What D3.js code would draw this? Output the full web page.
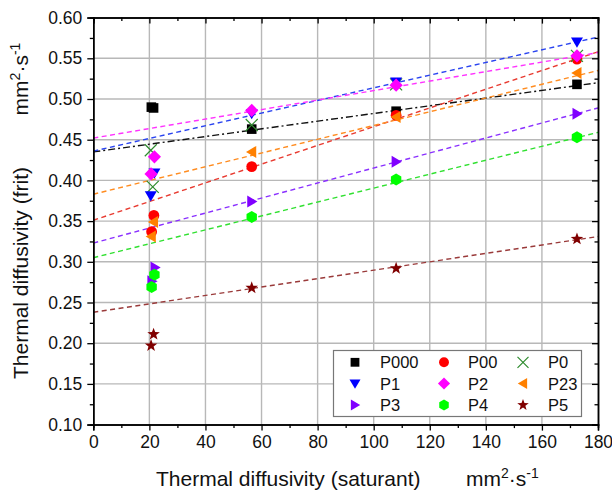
<!DOCTYPE html>
<html>
<head>
<meta charset="utf-8">
<script src="https://cdn.jsdelivr.net/npm/d3@7"></script>
<style>
  body { margin: 0; background: #fff; }
  svg { display: block; }
  text { font-family: "Liberation Sans", Arial, sans-serif; fill: #111; }
</style>
</head>
<body>
<div id="chart"></div>
<script>
// Thermal diffusivity of frit vs saturant, one series per sample

//////////////////////////////////////////////////////////////////////////
// data

var seriesNames  = ["P000", "P00", "P0", "P1", "P2", "P23", "P3", "P4", "P5"];
var seriesColors = ["#000000", "#ff0000", "#2e8b2e", "#0000ff", "#ff00ff", "#ff8000", "#8000ff", "#00ff00", "#800000"];
var lineColors   = ["#111111", "#e83a30", null, "#2a44f0", "#ff33ff", "#ff8c20", "#8a30ff", "#30e030", "#9a3a3a"];
var seriesShapes = ["square", "circle", "x", "triDown", "diamond", "triLeft", "triRight", "hexagon", "star"];

var xP000 = [20.7, 21.5, 56.5, 108, 172.5];
var yP000 = [0.490, 0.489, 0.463, 0.485, 0.518];
var xP00  = [21.6, 20.8, 56.5, 108, 172.5];
var yP00  = [0.357, 0.337, 0.417, 0.480, 0.549];
var xP0   = [20.5, 21.2, 56.5, 108, 172.5];
var yP0   = [0.437, 0.392, 0.468, 0.518, 0.553];
var xP1   = [21.8, 20.5, 56.5, 108, 172.5];
var yP1   = [0.409, 0.381, 0.482, 0.521, 0.570];
var xP2   = [21.8, 20.6, 56.5, 108, 172.5];
var yP2   = [0.429, 0.408, 0.486, 0.517, 0.553];
var xP23  = [21.5, 20.7, 56.5, 108, 172.5];
var yP23  = [0.349, 0.331, 0.435, 0.478, 0.532];
var xP3   = [22.0, 20.9, 56.5, 108, 172.5];
var yP3   = [0.293, 0.276, 0.374, 0.423, 0.482];
var xP4   = [21.8, 20.8, 56.5, 108, 172.5];
var yP4   = [0.284, 0.269, 0.355, 0.401, 0.453];
var xP5   = [21.5, 20.6, 56.5, 108, 172.5];
var yP5   = [0.211, 0.197, 0.268, 0.292, 0.328];

var seriesX = [xP000, xP00, xP0, xP1, xP2, xP23, xP3, xP4, xP5];
var seriesY = [yP000, yP00, yP0, yP1, yP2, yP23, yP3, yP4, yP5];

// fitted lines: value at x = 0 and at x = 180 (P0 has no line)
var fitStart = [0.435, 0.351, null, 0.436, 0.452, 0.383, 0.323, 0.305, 0.238];
var fitEnd   = [0.520, 0.558, null, 0.576, 0.557, 0.535, 0.489, 0.459, 0.331];

var xTicks = [0, 20, 40, 60, 80, 100, 120, 140, 160, 180];
var yTicks = [0.10, 0.15, 0.20, 0.25, 0.30, 0.35, 0.40, 0.45, 0.50, 0.55, 0.60];

//////////////////////////////////////////////////////////////////////////
// layout

var Width = 612;
var Height = 494;
var plotLeft = 93.3, plotRight = 598, plotTop = 17.6, plotBottom = 424.6;

var svg = d3.select("#chart")
    .append("svg")
    .attr("width", Width)
    .attr("height", Height);

var xScale = d3.scaleLinear().domain([0, 180]).range([plotLeft, plotRight]);
var yScale = d3.scaleLinear().domain([0.10, 0.60]).range([plotBottom, plotTop]);

var xMinor = d3.range(10, 180, 20);
var yMinor = d3.range(0.125, 0.6, 0.05);

// gridlines
svg.append("g").selectAll("line")
    .data(xTicks.slice(1, -1))
    .enter().append("line")
    .attr("x1", function(d) { return xScale(d); })
    .attr("x2", function(d) { return xScale(d); })
    .attr("y1", plotTop).attr("y2", plotBottom)
    .attr("stroke", "#b8b8b8").attr("stroke-width", 1.4);

svg.append("g").selectAll("line")
    .data(yTicks.slice(1, -1))
    .enter().append("line")
    .attr("y1", function(d) { return yScale(d); })
    .attr("y2", function(d) { return yScale(d); })
    .attr("x1", plotLeft).attr("x2", plotRight)
    .attr("stroke", "#b8b8b8").attr("stroke-width", 1.4);

// fit lines, clipped to the plot
svg.append("clipPath").attr("id", "plotClip")
    .append("rect")
    .attr("x", plotLeft).attr("y", plotTop)
    .attr("width", plotRight - plotLeft).attr("height", plotBottom - plotTop);

var fitGroup = svg.append("g").attr("clip-path", "url(#plotClip)");
seriesNames.forEach(function(name, i) {
    if (fitStart[i] === null) return;
    fitGroup.append("line")
        .attr("x1", xScale(0)).attr("y1", yScale(fitStart[i]))
        .attr("x2", xScale(180)).attr("y2", yScale(fitEnd[i]))
        .attr("stroke", lineColors[i])
        .attr("stroke-width", 1.4)
        .attr("stroke-dasharray", i === 0 ? "7,3,2,3" : "5,3.5");
});

//////////////////////////////////////////////////////////////////////////
// marker shapes, drawn round 0,0

function markerPath(shape, s) {
    var p = d3.path();
    var h = s / 2;
    if (shape === "square") {
        h = s * 0.4;
        p.rect(-h, -h, 2 * h, 2 * h);
    } else if (shape === "circle") {
        p.arc(0, 0, s * 0.45, 0, 2 * Math.PI);
    } else if (shape === "diamond") {
        p.moveTo(0, -h * 1.1); p.lineTo(h * 1.1, 0); p.lineTo(0, h * 1.1); p.lineTo(-h * 1.1, 0); p.closePath();
    } else if (shape === "triDown") {
        p.moveTo(-h, -h * 0.75); p.lineTo(h, -h * 0.75); p.lineTo(0, h * 0.95); p.closePath();
    } else if (shape === "triLeft") {
        p.moveTo(h * 0.75, -h); p.lineTo(h * 0.75, h); p.lineTo(-h * 0.95, 0); p.closePath();
    } else if (shape === "triRight") {
        p.moveTo(-h * 0.75, -h); p.lineTo(-h * 0.75, h); p.lineTo(h * 0.95, 0); p.closePath();
    } else if (shape === "hexagon") {
        for (var k = 0; k < 6; k++) {
            var a = Math.PI / 6 + k * Math.PI / 3;
            var px = Math.cos(a) * h, py = Math.sin(a) * h;
            if (k === 0) p.moveTo(px, py); else p.lineTo(px, py);
        }
        p.closePath();
    } else if (shape === "star") {
        for (var j = 0; j < 10; j++) {
            var r = (j % 2 === 0) ? h * 1.1 : h * 0.45;
            var b = -Math.PI / 2 + j * Math.PI / 5;
            if (j === 0) p.moveTo(Math.cos(b) * r, Math.sin(b) * r);
            else p.lineTo(Math.cos(b) * r, Math.sin(b) * r);
        }
        p.closePath();
    } else if (shape === "x") {
        p.moveTo(-h, -h); p.lineTo(h, h);
        p.moveTo(-h, h); p.lineTo(h, -h);
    }
    return p.toString();
}

function drawMarker(g, shape, color, cx, cy, s) {
    var m = g.append("path")
        .attr("d", markerPath(shape, s))
        .attr("transform", "translate(" + cx + "," + cy + ")");
    if (shape === "x") {
        m.attr("fill", "none").attr("stroke", color).attr("stroke-width", 1.2);
    } else {
        m.attr("fill", color);
    }
}

// data points
var pointGroup = svg.append("g");
seriesNames.forEach(function(name, i) {
    seriesX[i].forEach(function(xv, k) {
        drawMarker(pointGroup, seriesShapes[i], seriesColors[i], xScale(xv), yScale(seriesY[i][k]), 12);
    });
});

//////////////////////////////////////////////////////////////////////////
// axes

var tickFont = "17.5px";

var bottomAxis = svg.append("g")
    .attr("transform", "translate(0," + plotBottom + ")")
    .call(d3.axisBottom(xScale).tickValues(xTicks).tickSize(6).tickPadding(5).tickFormat(d3.format("d")));
var leftAxis = svg.append("g")
    .attr("transform", "translate(" + plotLeft + ",0)")
    .call(d3.axisLeft(yScale).tickValues(yTicks).tickSize(6).tickPadding(5).tickFormat(d3.format(".2f")));
var topAxis = svg.append("g")
    .attr("transform", "translate(0," + plotTop + ")")
    .call(d3.axisBottom(xScale).tickValues(xTicks).tickSize(6).tickFormat(""));
var rightAxis = svg.append("g")
    .attr("transform", "translate(" + plotRight + ",0)")
    .call(d3.axisLeft(yScale).tickValues(yTicks).tickSize(6).tickFormat(""));

// minor ticks
svg.append("g").attr("transform", "translate(0," + plotBottom + ")")
    .call(d3.axisBottom(xScale).tickValues(xMinor).tickSize(3.5).tickFormat(""));
svg.append("g").attr("transform", "translate(" + plotLeft + ",0)")
    .call(d3.axisLeft(yScale).tickValues(yMinor).tickSize(3.5).tickFormat(""));
svg.append("g").attr("transform", "translate(0," + plotTop + ")")
    .call(d3.axisBottom(xScale).tickValues(xMinor).tickSize(3.5).tickFormat(""));
svg.append("g").attr("transform", "translate(" + plotRight + ",0)")
    .call(d3.axisLeft(yScale).tickValues(yMinor).tickSize(3.5).tickFormat(""));

svg.selectAll(".domain").attr("stroke", "#000").attr("stroke-width", 1.5);
svg.selectAll(".tick line").attr("stroke", "#000").attr("stroke-width", 1.3);
svg.selectAll(".tick text")
    .attr("font-family", "Liberation Sans, Arial, sans-serif")
    .attr("font-size", tickFont)
    .attr("fill", "#222");

//////////////////////////////////////////////////////////////////////////
// axis titles

var titleFont = "21px";
var supFont = "14px";

svg.append("text")
    .attr("x", 156).attr("y", 486)
    .attr("font-size", titleFont)
    .text("Thermal diffusivity (saturant)");

var xUnit = svg.append("text")
    .attr("x", 466).attr("y", 486)
    .attr("font-size", titleFont);
xUnit.append("tspan").text("mm");
xUnit.append("tspan").attr("dy", -8).attr("font-size", supFont).text("2");
xUnit.append("tspan").attr("dy", 8).text("·s");
xUnit.append("tspan").attr("dy", -8).attr("font-size", supFont).text("-1");

svg.append("text")
    .attr("transform", "translate(28,273) rotate(-90)")
    .attr("text-anchor", "middle")
    .attr("font-size", titleFont)
    .text("Thermal diffusivity (frit)");

var yUnit = svg.append("text")
    .attr("transform", "translate(28,79) rotate(-90)")
    .attr("text-anchor", "middle")
    .attr("font-size", titleFont);
yUnit.append("tspan").text("mm");
yUnit.append("tspan").attr("dy", -8).attr("font-size", supFont).text("2");
yUnit.append("tspan").attr("dy", 8).text("·s");
yUnit.append("tspan").attr("dy", -8).attr("font-size", supFont).text("-1");

//////////////////////////////////////////////////////////////////////////
// legend

var legend = svg.append("g");
legend.append("rect")
    .attr("x", 333.5).attr("y", 350.5)
    .attr("width", 248).attr("height", 66)
    .attr("fill", "#fff").attr("stroke", "#777").attr("stroke-width", 1.2);

var legendSymX = [355, 444, 523];
var legendTextX = [380, 468, 548];
var legendRowY = [362.3, 383.5, 405];

seriesNames.forEach(function(name, i) {
    var col = i % 3, row = Math.floor(i / 3);
    drawMarker(legend, seriesShapes[i], seriesColors[i], legendSymX[col], legendRowY[row], 11);
    legend.append("text")
        .attr("x", legendTextX[col])
        .attr("y", legendRowY[row] + 6)
        .attr("font-size", "16.5px")
        .text(name);
});
</script>
</body>
</html>
